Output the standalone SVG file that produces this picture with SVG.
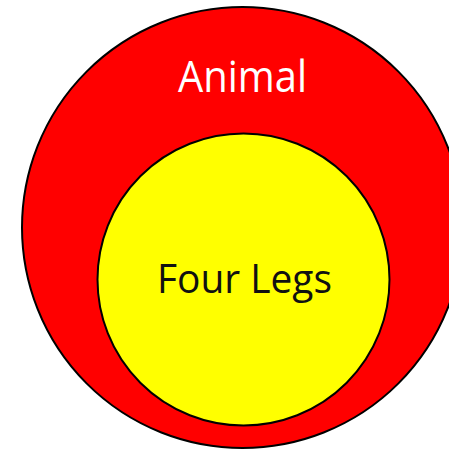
<svg xmlns="http://www.w3.org/2000/svg" width="449" height="451" viewBox="0 0 449 451">
<style>
.ring{stroke:#000;stroke-width:2}
.lbl{font-family:"Open Sans","Liberation Sans",sans-serif;text-anchor:middle}
</style>
<rect width="449" height="451" fill="#fff"/>
<g id="animal">
<circle class="ring" cx="242.5" cy="227.5" r="220.5" fill="#ff0000"/>
<text class="lbl" x="242.5" y="92" font-size="43" fill="#fff" textLength="129" lengthAdjust="spacingAndGlyphs">Animal</text>
</g>
<g id="four-legs">
<circle class="ring" cx="243.5" cy="279.5" r="146" fill="#ffff00"/>
<text class="lbl" x="244.5" y="293" font-size="41" fill="#111" textLength="175" lengthAdjust="spacingAndGlyphs">Four Legs</text>
</g>
<g id="connectors"/>
</svg>
